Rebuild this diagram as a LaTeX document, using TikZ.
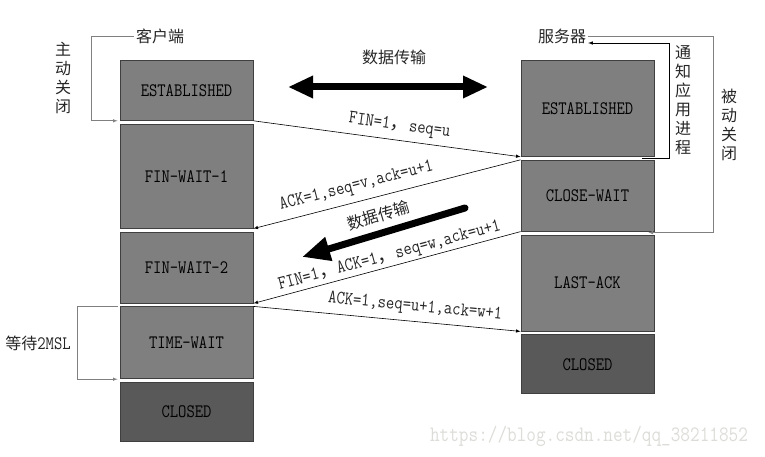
\documentclass[tikz,border=0pt]{standalone}
\usepackage{fontspec}
\newfontfamily\cjk{Noto Sans CJK SC}
\newfontfamily\statefont[FakeStretch=0.85]{Latin Modern Mono}
\usepackage{xcolor}
\usepackage{tikz}
\usetikzlibrary{positioning,calc}
\usetikzlibrary{arrows,arrows.meta,shapes}
\definecolor{boxgray}{HTML}{7F7F7F}
\definecolor{closedgray}{HTML}{595959}
\definecolor{edgegray}{HTML}{3F3F3F}
\definecolor{markgray}{HTML}{DCDCD8}
\tikzstyle{state} = [rectangle,anchor=north,draw=edgegray,fill=boxgray,line width=0.8pt,minimum width=133pt,inner sep=0pt,text=black,font=\statefont\fontsize{19}{19}\selectfont]
\tikzstyle{closed} = [state,fill=closedgray]
\tikzstyle{line} = [-latex,line width=0.6pt]
\tikzstyle{msg} = [font=\statefont\fontsize{19}{19}\selectfont,sloped,above,inner sep=1pt,text=black!85]
\tikzstyle{cjktext} = [font=\cjk\fontsize{16}{19}\selectfont,inner sep=2pt,align=center,text=black!85]
\tikzstyle{bracket} = [-latex,draw=gray,line width=0.6pt]
\tikzstyle{bigarrow} = [line width=7pt]

\begin{document}
\begin{tikzpicture}[x=1pt,y=-1pt]
        \useasboundingbox (0,0) rectangle (765,457);
        % client side
        \node[state,minimum height=60pt] (est1) at (186.5,60) {ESTABLISHED};
        \node[state,minimum height=104pt,below=3pt of est1] (fw1) {FIN-WAIT-1};
        \node[state,minimum height=71pt,below=3pt of fw1] (fw2) {FIN-WAIT-2};
        \node[state,minimum height=72pt,below=3pt of fw2] (tw) {TIME-WAIT};
        \node[closed,minimum height=59pt,below=3pt of tw] (cl1) {CLOSED};
        % server side
        \node[state,minimum height=96pt] (est2) at (587.5,60) {ESTABLISHED};
        \node[state,minimum height=71pt,below=3pt of est2] (cw) {CLOSE-WAIT};
        \node[state,minimum height=96pt,below=3pt of cw] (la) {LAST-ACK};
        \node[closed,minimum height=59pt,below=3pt of la] (cl2) {CLOSED};

        \node[cjktext] (client) at (160,36) {客户端};
        \node[cjktext] (server) at (562,36) {服务器};
        \node[cjktext] (active) at (63,78) {主\\动\\关\\闭};
        \node[cjktext] (notify) at (683,100) {通\\知\\应\\用\\进\\程};
        \node[cjktext] (passive) at (729,125) {被\\动\\关\\闭};
        \node[cjktext] (wait) at (38,343) {等待{\statefont\fontsize{19}{19}\selectfont 2MSL}};

        % messages
        \path[line] (est1.south east) edge node[msg,pos=0.54,above=5pt] {FIN=1{\cjk ，}seq=u} (est2.south west);
        \path[line] (cw.north west) edge node[msg,pos=0.6,above=6pt] {ACK=1,seq=v,ack=u+1} (fw1.south east);
        \path[line] (cw.south west) edge node[msg,pos=0.48,above=1pt] {FIN=1{\cjk ，}ACK=1{\cjk ，}seq=w,ack=u+1} (fw2.south east);
        \path[line] (tw.north east) edge node[msg,pos=0.6,above=5pt] {ACK=1,seq=u+1,ack=w+1} (la.south west);

        % data transfer
        \coordinate (data1a) at (288,87);
        \coordinate (data1b) at (488,87);
        \draw[bigarrow,{Triangle[length=25pt,width=21pt]}-{Triangle[length=25pt,width=21pt]}] (data1a) -- (data1b);
        \node[cjktext] (data1) at (394,57) {数据传输};
        \coordinate (data2a) at (465,208);
        \coordinate (data2b) at (302,257);
        \draw[bigarrow,line cap=round,-{Triangle[length=28pt,width=23pt]}] (data2a) -- node[cjktext,sloped,above=5pt] (data2) {数据传输} (data2b);

        % state changes
        \draw[bracket] (client.west) -- ++(-43,0) |- ([xshift=-2pt]est1.south west);
        \draw[bracket] ([xshift=-2pt]tw.north west) -- ++(-40,0) |- ([xshift=-2pt]tw.south west);
        \draw[-latex,line width=0.6pt] ([xshift=-12pt,yshift=-1.5pt]est2.south east) -- ++(27,0) |- ([yshift=-7pt]server.east);
        \draw[bracket] (server.east) -- ++(125,0) |- ([xshift=-6pt,yshift=-1pt]cw.south east);

        \node[font=\statefont\fontsize{22}{22}\selectfont,text=markgray] (mark) at (589,436) {https://blog.csdn.net/qq\_38211852};
    \end{tikzpicture}
\end{document}
